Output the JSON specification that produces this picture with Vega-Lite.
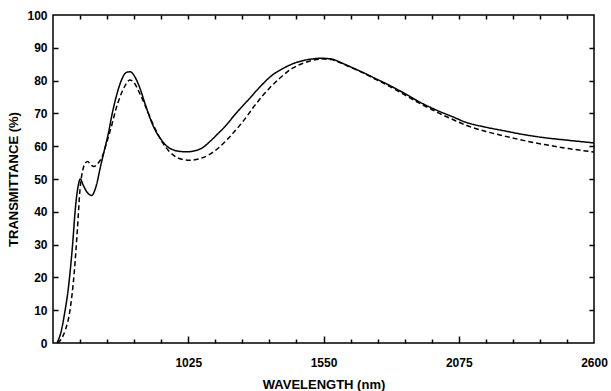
{
  "$schema": "https://vega.github.io/schema/vega-lite/v6.json",
  "width": 541,
  "height": 328,
  "autosize": {"type": "none"},
  "padding": {"left": 53, "top": 15, "right": 17, "bottom": 48},
  "background": "white",
  "config": {
    "view": {"stroke": "black", "strokeWidth": 1.5},
    "axis": {
      "domain": false, "grid": false,
      "labelFont": "Liberation Sans", "labelFontWeight": "bold", "labelFontSize": 12, "labelColor": "black",
      "titleFont": "Liberation Sans", "titleFontWeight": "bold", "titleFontSize": 13, "titleColor": "black"
    }
  },
  "data": {"values": [
    {"wl": 515, "t": 0, "s": "solid"}, {"wl": 530, "t": 3, "s": "solid"}, {"wl": 545, "t": 9, "s": "solid"},
    {"wl": 560, "t": 17, "s": "solid"}, {"wl": 575, "t": 29, "s": "solid"}, {"wl": 588, "t": 42, "s": "solid"},
    {"wl": 598, "t": 48, "s": "solid"}, {"wl": 606, "t": 50, "s": "solid"}, {"wl": 618, "t": 48, "s": "solid"},
    {"wl": 632, "t": 46, "s": "solid"}, {"wl": 650, "t": 45, "s": "solid"}, {"wl": 668, "t": 48, "s": "solid"},
    {"wl": 685, "t": 54, "s": "solid"}, {"wl": 700, "t": 59, "s": "solid"}, {"wl": 715, "t": 64, "s": "solid"},
    {"wl": 730, "t": 70, "s": "solid"}, {"wl": 745, "t": 75, "s": "solid"}, {"wl": 765, "t": 80, "s": "solid"},
    {"wl": 785, "t": 82.5, "s": "solid"}, {"wl": 800, "t": 82.7, "s": "solid"}, {"wl": 815, "t": 81.5, "s": "solid"},
    {"wl": 836, "t": 78, "s": "solid"}, {"wl": 855, "t": 73.5, "s": "solid"}, {"wl": 870, "t": 70, "s": "solid"},
    {"wl": 896, "t": 65, "s": "solid"}, {"wl": 920, "t": 62, "s": "solid"}, {"wl": 945, "t": 59.8, "s": "solid"},
    {"wl": 970, "t": 58.8, "s": "solid"}, {"wl": 995, "t": 58.4, "s": "solid"}, {"wl": 1022, "t": 58.3, "s": "solid"},
    {"wl": 1050, "t": 58.6, "s": "solid"}, {"wl": 1080, "t": 59.5, "s": "solid"}, {"wl": 1110, "t": 61.5, "s": "solid"},
    {"wl": 1140, "t": 63.8, "s": "solid"}, {"wl": 1170, "t": 66.2, "s": "solid"}, {"wl": 1210, "t": 70, "s": "solid"},
    {"wl": 1260, "t": 74.3, "s": "solid"}, {"wl": 1300, "t": 77.8, "s": "solid"}, {"wl": 1350, "t": 81.6, "s": "solid"},
    {"wl": 1400, "t": 84, "s": "solid"}, {"wl": 1440, "t": 85.4, "s": "solid"}, {"wl": 1490, "t": 86.4, "s": "solid"},
    {"wl": 1540, "t": 86.8, "s": "solid"}, {"wl": 1580, "t": 86.6, "s": "solid"}, {"wl": 1620, "t": 85.4, "s": "solid"},
    {"wl": 1660, "t": 84, "s": "solid"}, {"wl": 1700, "t": 82.6, "s": "solid"}, {"wl": 1750, "t": 80.7, "s": "solid"},
    {"wl": 1800, "t": 78.8, "s": "solid"}, {"wl": 1860, "t": 76.3, "s": "solid"}, {"wl": 1920, "t": 73.6, "s": "solid"},
    {"wl": 2000, "t": 70.6, "s": "solid"}, {"wl": 2050, "t": 69, "s": "solid"}, {"wl": 2106, "t": 67.2, "s": "solid"},
    {"wl": 2180, "t": 65.8, "s": "solid"}, {"wl": 2257, "t": 64.6, "s": "solid"}, {"wl": 2330, "t": 63.5, "s": "solid"},
    {"wl": 2408, "t": 62.6, "s": "solid"}, {"wl": 2500, "t": 61.8, "s": "solid"}, {"wl": 2600, "t": 61, "s": "solid"},
    {"wl": 518, "t": 0, "s": "dashed"}, {"wl": 530, "t": 1, "s": "dashed"}, {"wl": 548, "t": 4, "s": "dashed"},
    {"wl": 565, "t": 9.5, "s": "dashed"}, {"wl": 583, "t": 22, "s": "dashed"}, {"wl": 595, "t": 35, "s": "dashed"},
    {"wl": 605, "t": 47, "s": "dashed"}, {"wl": 615, "t": 52.5, "s": "dashed"}, {"wl": 625, "t": 54.8, "s": "dashed"},
    {"wl": 635, "t": 55.3, "s": "dashed"}, {"wl": 645, "t": 54.5, "s": "dashed"}, {"wl": 659, "t": 53.8, "s": "dashed"},
    {"wl": 675, "t": 54.8, "s": "dashed"}, {"wl": 692, "t": 57, "s": "dashed"}, {"wl": 710, "t": 61.5, "s": "dashed"},
    {"wl": 730, "t": 67, "s": "dashed"}, {"wl": 745, "t": 71.5, "s": "dashed"}, {"wl": 760, "t": 75, "s": "dashed"},
    {"wl": 780, "t": 78.5, "s": "dashed"}, {"wl": 798, "t": 80.2, "s": "dashed"}, {"wl": 815, "t": 79.3, "s": "dashed"},
    {"wl": 836, "t": 76.2, "s": "dashed"}, {"wl": 860, "t": 72, "s": "dashed"}, {"wl": 881, "t": 68, "s": "dashed"},
    {"wl": 905, "t": 64, "s": "dashed"}, {"wl": 926, "t": 61, "s": "dashed"}, {"wl": 950, "t": 58.5, "s": "dashed"},
    {"wl": 972, "t": 57, "s": "dashed"}, {"wl": 1000, "t": 56, "s": "dashed"}, {"wl": 1032, "t": 55.7, "s": "dashed"},
    {"wl": 1070, "t": 56.2, "s": "dashed"}, {"wl": 1108, "t": 57.5, "s": "dashed"}, {"wl": 1150, "t": 60, "s": "dashed"},
    {"wl": 1199, "t": 64, "s": "dashed"}, {"wl": 1240, "t": 67.8, "s": "dashed"}, {"wl": 1289, "t": 73, "s": "dashed"},
    {"wl": 1340, "t": 77.7, "s": "dashed"}, {"wl": 1380, "t": 80.7, "s": "dashed"}, {"wl": 1430, "t": 83.8, "s": "dashed"},
    {"wl": 1471, "t": 85.3, "s": "dashed"}, {"wl": 1510, "t": 86.2, "s": "dashed"}, {"wl": 1546, "t": 86.6, "s": "dashed"},
    {"wl": 1580, "t": 86.4, "s": "dashed"}, {"wl": 1620, "t": 85.3, "s": "dashed"}, {"wl": 1660, "t": 83.9, "s": "dashed"},
    {"wl": 1700, "t": 82.5, "s": "dashed"}, {"wl": 1750, "t": 80.5, "s": "dashed"}, {"wl": 1800, "t": 78.5, "s": "dashed"},
    {"wl": 1860, "t": 75.9, "s": "dashed"}, {"wl": 1920, "t": 73.2, "s": "dashed"}, {"wl": 1955, "t": 71.8, "s": "dashed"},
    {"wl": 2000, "t": 70, "s": "dashed"}, {"wl": 2050, "t": 68.2, "s": "dashed"}, {"wl": 2106, "t": 66.3, "s": "dashed"},
    {"wl": 2180, "t": 64.5, "s": "dashed"}, {"wl": 2257, "t": 63, "s": "dashed"}, {"wl": 2330, "t": 61.7, "s": "dashed"},
    {"wl": 2408, "t": 60.5, "s": "dashed"}, {"wl": 2500, "t": 59.3, "s": "dashed"}, {"wl": 2600, "t": 58.2, "s": "dashed"}
  ]},
  "layer": [
    {
      "mark": {"type": "line", "color": "black", "strokeWidth": 1.5, "interpolate": "monotone"},
      "encoding": {
        "x": {
          "field": "wl", "type": "quantitative",
          "scale": {"domain": [500, 2600], "nice": false, "zero": false},
          "axis": {
            "orient": "bottom", "title": "WAVELENGTH (nm)", "format": "d",
            "values": [1025, 1550, 2075, 2600],
            "tickSize": 0, "tickColor": "white", "tickWidth": 0,
            "labelPadding": 14, "titlePadding": 10, "labelFlush": false
          }
        },
        "y": {
          "field": "t", "type": "quantitative",
          "scale": {"domain": [0, 100], "nice": false},
          "axis": {
            "orient": "left", "title": "TRANSMITTANCE (%)",
            "values": [0, 10, 20, 30, 40, 50, 60, 70, 80, 90, 100],
            "tickSize": 0, "tickColor": "white", "tickWidth": 0,
            "labelPadding": 6, "titlePadding": 6, "labelFlush": false
          }
        },
        "strokeDash": {
          "field": "s", "type": "nominal",
          "scale": {"domain": ["solid", "dashed"], "range": [[1, 0], [5, 3]]},
          "legend": null
        }
      }
    },
    {
      "mark": {"type": "line", "opacity": 0},
      "encoding": {
        "x": {
          "field": "wl", "type": "quantitative",
          "axis": {
            "orient": "bottom", "title": null, "labels": false, "offset": -4, "tickSize": 4,
            "tickColor": "black", "tickWidth": 1.5,
            "values": [605, 710, 815, 920, 1130, 1235, 1340, 1445, 1655, 1760, 1865, 1970, 2180, 2285, 2390, 2495]
          }
        },
        "y": {
          "field": "t", "type": "quantitative",
          "axis": {
            "orient": "left", "title": null, "labels": false, "offset": -5, "tickSize": 5,
            "tickColor": "black", "tickWidth": 1.5,
            "values": [10, 20, 30, 40, 50, 60, 70, 80, 90]
          }
        },
        "detail": {"field": "s", "type": "nominal"}
      }
    },
    {
      "mark": {"type": "line", "opacity": 0},
      "encoding": {
        "x": {
          "field": "wl", "type": "quantitative",
          "axis": {
            "orient": "bottom", "title": null, "labels": false, "offset": -7, "tickSize": 7,
            "tickColor": "black", "tickWidth": 1.5,
            "values": [1025, 1550, 2075]
          }
        },
        "y": {
          "field": "t", "type": "quantitative",
          "axis": {
            "orient": "right", "title": null, "labels": false, "offset": -5, "tickSize": 5,
            "tickColor": "black", "tickWidth": 1.5,
            "values": [10, 20, 30, 40, 50, 60, 70, 80, 90]
          }
        },
        "detail": {"field": "s", "type": "nominal"}
      }
    },
    {
      "mark": {"type": "line", "opacity": 0},
      "encoding": {
        "x": {
          "field": "wl", "type": "quantitative",
          "axis": {
            "orient": "top", "title": null, "labels": false, "offset": -4, "tickSize": 4,
            "tickColor": "black", "tickWidth": 1.5,
            "values": [605, 710, 815, 920, 1025, 1130, 1235, 1340, 1445, 1550, 1655, 1760, 1865, 1970, 2075, 2180, 2285, 2390, 2495]
          }
        },
        "y": {
          "field": "t", "type": "quantitative",
          "axis": {"orient": "right", "title": null, "labels": false, "ticks": false, "values": [0]}
        },
        "detail": {"field": "s", "type": "nominal"}
      }
    }
  ],
  "resolve": {"axis": {"x": "independent", "y": "independent"}}
}
